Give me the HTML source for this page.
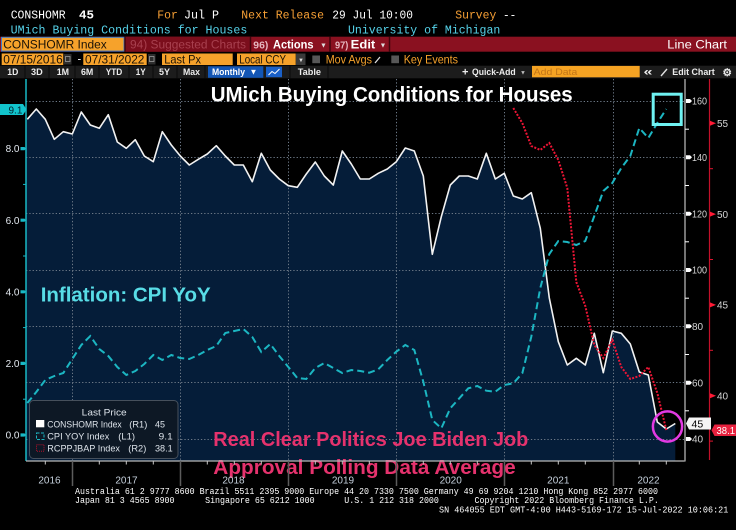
<!DOCTYPE html>
<html><head><meta charset="utf-8"><style>
html,body{margin:0;padding:0;background:#000;width:736px;height:530px;overflow:hidden}
svg{display:block}
.m{font-family:"Liberation Mono",monospace}
.s{font-family:"Liberation Sans",sans-serif}
</style></head><body>
<svg width="736" height="530" viewBox="0 0 736 530" xmlns="http://www.w3.org/2000/svg">
<rect width="736" height="530" fill="#000"/>

<!-- Header rows -->
<g class="m" font-size="11.5">
<text x="10.7" y="18.3" fill="#fff" textLength="55" lengthAdjust="spacingAndGlyphs">CONSHOMR</text>
<text x="79" y="18.3" fill="#fff" font-weight="bold" textLength="15" lengthAdjust="spacingAndGlyphs">45</text>
<text x="157.3" y="18.3" fill="#f7a035" textLength="20.5" lengthAdjust="spacingAndGlyphs">For</text>
<text x="184" y="18.3" fill="#fff" textLength="35" lengthAdjust="spacingAndGlyphs">Jul P</text>
<text x="241.3" y="18.3" fill="#f7a035" textLength="82.7" lengthAdjust="spacingAndGlyphs">Next Release</text>
<text x="332.3" y="18.3" fill="#fff" textLength="80.7" lengthAdjust="spacingAndGlyphs">29 Jul 10:00</text>
<text x="455.3" y="18.3" fill="#f7a035" textLength="41" lengthAdjust="spacingAndGlyphs">Survey</text>
<text x="503" y="18.3" fill="#fff" textLength="13.3" lengthAdjust="spacingAndGlyphs">--</text>
<text x="10.7" y="33.3" fill="#56d3ea" textLength="236.6" lengthAdjust="spacingAndGlyphs">UMich Buying Conditions for Houses</text>
<text x="348" y="33.3" fill="#56d3ea" textLength="152.3" lengthAdjust="spacingAndGlyphs">University of Michigan</text>
</g>

<!-- Red bar -->
<rect x="0" y="36.7" width="736" height="15" fill="#8a1120"/>
<rect x="125" y="36.7" width="125" height="15" fill="#7b0e1c"/>
<rect x="1.5" y="37.3" width="122.5" height="13.8" fill="#f6a22b" stroke="#3d7cc9" stroke-width="1"/>
<g class="s">
<text x="3.3" y="48.4" font-size="12" fill="#1b1206" textLength="103.4" lengthAdjust="spacingAndGlyphs">CONSHOMR Index</text>
<text x="130" y="48.4" font-size="11.5" fill="#a8404f" textLength="116" lengthAdjust="spacingAndGlyphs">94) Suggested Charts</text>
<text x="253.3" y="48.4" font-size="10" fill="#e6b8c0" font-weight="bold" textLength="15" lengthAdjust="spacingAndGlyphs">96)</text>
<text x="273" y="48.4" font-size="11.5" fill="#fff" font-weight="bold" textLength="40.5" lengthAdjust="spacingAndGlyphs">Actions</text>
<text x="320" y="47.5" font-size="7" fill="#ddd">▼</text>
<text x="335" y="48.4" font-size="10" fill="#e6b8c0" font-weight="bold" textLength="13.3" lengthAdjust="spacingAndGlyphs">97)</text>
<text x="350.7" y="48.4" font-size="11.5" fill="#fff" font-weight="bold" textLength="24.6" lengthAdjust="spacingAndGlyphs">Edit</text>
<text x="379.5" y="47.5" font-size="7" fill="#ddd">▼</text>
<text x="667.3" y="48.4" font-size="11.5" fill="#fff" textLength="59.7" lengthAdjust="spacingAndGlyphs">Line Chart</text>
</g>
<g stroke="#40050c" stroke-width="1.5">
<line x1="125" y1="36.7" x2="125" y2="51.7"/>
<line x1="250.5" y1="36.7" x2="250.5" y2="51.7"/>
<line x1="330" y1="36.7" x2="330" y2="51.7"/>
<line x1="389.5" y1="36.7" x2="389.5" y2="51.7"/>
</g>

<!-- Row 4 -->
<g class="s" font-size="12">
<rect x="1.7" y="53.5" width="61.6" height="11.5" fill="#f6a22b"/>
<text x="3.3" y="63.3" fill="#1b1206" textLength="59.4" lengthAdjust="spacingAndGlyphs">07/15/2016</text>
<rect x="64" y="54" width="7.5" height="10.5" fill="#2e2e2e"/>
<rect x="65.5" y="56.5" width="4.5" height="5" fill="none" stroke="#9a9a9a" stroke-width="0.8"/>
<text x="77.5" y="62.5" fill="#fff" font-size="11">-</text>
<rect x="83.3" y="53.5" width="63.4" height="11.5" fill="#f6a22b"/>
<text x="85" y="63.3" fill="#1b1206" textLength="59.4" lengthAdjust="spacingAndGlyphs">07/31/2022</text>
<rect x="148" y="54" width="7.5" height="10.5" fill="#2e2e2e"/>
<rect x="149.5" y="56.5" width="4.5" height="5" fill="none" stroke="#9a9a9a" stroke-width="0.8"/>
<rect x="162" y="53.5" width="70.7" height="11.5" fill="#f6a22b"/>
<text x="164.3" y="63.3" fill="#1b1206" textLength="36.7" lengthAdjust="spacingAndGlyphs">Last Px</text>
<rect x="237" y="53.5" width="58.7" height="11.5" fill="#f6a22b"/>
<text x="239.3" y="63.3" fill="#1b1206" textLength="46.7" lengthAdjust="spacingAndGlyphs">Local CCY</text>
<rect x="296" y="53.5" width="9.5" height="11.5" fill="#3a3a3a"/>
<text x="298" y="62" font-size="6" fill="#ddd">▼</text>
<rect x="312.3" y="55.5" width="7.7" height="7.7" fill="#575757"/>
<text x="325.7" y="63.3" fill="#f6a22b" textLength="46.3" lengthAdjust="spacingAndGlyphs">Mov Avgs</text>
<line x1="375" y1="63" x2="380" y2="57" stroke="#ddd" stroke-width="1.3"/>
<rect x="391.3" y="55.5" width="7.7" height="7.7" fill="#575757"/>
<text x="403.7" y="63.3" fill="#f6a22b" textLength="54.3" lengthAdjust="spacingAndGlyphs">Key Events</text>
</g>

<!-- Row 5 -->
<rect x="0" y="65.7" width="736" height="12.6" fill="#1c1c1c"/>
<g stroke="#0a0a0a" stroke-width="1">
<line x1="25" y1="65.7" x2="25" y2="78.3"/><line x1="49" y1="65.7" x2="49" y2="78.3"/>
<line x1="75" y1="65.7" x2="75" y2="78.3"/><line x1="99" y1="65.7" x2="99" y2="78.3"/>
<line x1="129" y1="65.7" x2="129" y2="78.3"/><line x1="153" y1="65.7" x2="153" y2="78.3"/>
<line x1="177" y1="65.7" x2="177" y2="78.3"/><line x1="205" y1="65.7" x2="205" y2="78.3"/>
<line x1="290" y1="65.7" x2="290" y2="78.3"/><line x1="328" y1="65.7" x2="328" y2="78.3"/>
</g>
<rect x="208" y="66.3" width="55.3" height="11.5" fill="#1356b5"/>
<rect x="266" y="66.7" width="16" height="10.5" fill="#1a60c8"/>
<polyline points="268.5,75 272,71.5 275,73.5 279.5,69" fill="none" stroke="#fff" stroke-width="1"/>
<rect x="532" y="65.9" width="107.7" height="11.4" fill="#f5a323"/>
<g class="s" font-size="9.5" font-weight="bold" fill="#ececec">
<text x="7.3" y="75" textLength="11" lengthAdjust="spacingAndGlyphs">1D</text>
<text x="31" y="75" textLength="11.7" lengthAdjust="spacingAndGlyphs">3D</text>
<text x="56.7" y="75" textLength="12.3" lengthAdjust="spacingAndGlyphs">1M</text>
<text x="81" y="75" textLength="12.3" lengthAdjust="spacingAndGlyphs">6M</text>
<text x="105.7" y="75" textLength="16.6" lengthAdjust="spacingAndGlyphs">YTD</text>
<text x="135.7" y="75" textLength="10" lengthAdjust="spacingAndGlyphs">1Y</text>
<text x="159" y="75" textLength="11" lengthAdjust="spacingAndGlyphs">5Y</text>
<text x="183" y="75" textLength="17" lengthAdjust="spacingAndGlyphs">Max</text>
<text x="212" y="75" fill="#fff" textLength="33" lengthAdjust="spacingAndGlyphs">Monthly</text>
<text x="249.5" y="74.5" font-size="8" fill="#fff">▼</text>
<text x="297.7" y="75" textLength="23.3" lengthAdjust="spacingAndGlyphs">Table</text>
<text x="462" y="75.5" font-size="11">+</text>
<text x="472" y="75" textLength="43.7" lengthAdjust="spacingAndGlyphs">Quick-Add</text>
<text x="520" y="74.3" font-size="6" fill="#bbb">▼</text>
<text x="533.7" y="75" font-weight="normal" fill="#c27517" textLength="43.6" lengthAdjust="spacingAndGlyphs">Add Data</text>
<text x="643.5" y="75.3" font-size="11" textLength="9" lengthAdjust="spacingAndGlyphs">«</text>
<text x="672.3" y="75" textLength="42.4" lengthAdjust="spacingAndGlyphs">Edit Chart</text>
<text x="722.5" y="76" font-size="10.5">⚙</text>
</g>
<line x1="661" y1="76" x2="667" y2="69" stroke="#e0e0e0" stroke-width="1.4"/>

<!-- Plot: area fill -->
<path d="M26,461 L26,119.3 L27.3,119.3 L36.3,109 L45.3,119.3 L54.3,139.3 L63.3,131.7 L72.3,134 L81.3,112 L90.3,125 L99.3,128.3 L108.3,114.7 L117.3,142 L126.3,148.3 L135.3,139.7 L144.3,156 L153.3,161.7 L162.3,131.7 L171.3,145 L180.3,156 L189.3,165 L198.3,159.3 L207.3,154 L216.3,145.7 L225.3,156 L234.3,165 L243.3,165 L252.3,181.7 L261.3,153.3 L270.3,170 L279.3,179 L288.3,185.7 L297.3,187.3 L306.3,174 L315.3,162 L324.3,176 L333.3,185 L342.3,151 L351.3,164 L360.3,179 L369.3,179 L378.3,173.3 L387.3,169 L396.3,161.7 L405.3,148 L414.3,151 L423.3,176 L432.3,254.3 L441.3,216.7 L450.3,185 L459.3,176 L468.3,176 L477.3,179 L486.3,153.3 L495.3,179 L504.3,173.3 L513.3,196 L522.3,199 L531.3,192.7 L540.3,228.3 L549.3,298 L558.3,341.7 L567.3,365 L576.3,358.3 L585.3,365 L594.3,333.3 L603.3,372.7 L612.3,331 L621.3,333.3 L630.3,344 L639.3,372 L648.3,375 L657.3,422 L666.3,429 L675.3,423.5 L675.3,461 Z" fill="#051d39"/>

<!-- Gridlines -->
<g stroke="#6c7886" stroke-width="1" stroke-dasharray="1.3 2">
<line x1="26" y1="101.5" x2="685" y2="101.5"/>
<line x1="26" y1="157.5" x2="685" y2="157.5"/>
<line x1="26" y1="213.5" x2="685" y2="213.5"/>
<line x1="26" y1="270.5" x2="685" y2="270.5"/>
<line x1="26" y1="326.5" x2="685" y2="326.5"/>
<line x1="26" y1="382.5" x2="685" y2="382.5"/>
<line x1="26" y1="439.5" x2="685" y2="439.5"/>
<line x1="72.5" y1="79" x2="72.5" y2="461"/>
<line x1="180.5" y1="79" x2="180.5" y2="461"/>
<line x1="288.5" y1="79" x2="288.5" y2="461"/>
<line x1="396.5" y1="79" x2="396.5" y2="461"/>
<line x1="504.5" y1="79" x2="504.5" y2="461"/>
<line x1="613.5" y1="79" x2="613.5" y2="461"/>
</g>

<!-- Titles -->
<g class="s" font-weight="bold">
<text x="210.7" y="101.5" font-size="21.5" fill="#fff" textLength="362" lengthAdjust="spacingAndGlyphs">UMich Buying Conditions for Houses</text>
<text x="40.7" y="301.7" font-size="20.5" fill="#58dce6" textLength="170" lengthAdjust="spacingAndGlyphs">Inflation: CPI YoY</text>
</g>

<!-- Series -->
<polyline fill="none" stroke="#f2f2f2" stroke-width="1.6" stroke-linejoin="round" points="27.3,119.3 36.3,109 45.3,119.3 54.3,139.3 63.3,131.7 72.3,134 81.3,112 90.3,125 99.3,128.3 108.3,114.7 117.3,142 126.3,148.3 135.3,139.7 144.3,156 153.3,161.7 162.3,131.7 171.3,145 180.3,156 189.3,165 198.3,159.3 207.3,154 216.3,145.7 225.3,156 234.3,165 243.3,165 252.3,181.7 261.3,153.3 270.3,170 279.3,179 288.3,185.7 297.3,187.3 306.3,174 315.3,162 324.3,176 333.3,185 342.3,151 351.3,164 360.3,179 369.3,179 378.3,173.3 387.3,169 396.3,161.7 405.3,148 414.3,151 423.3,176 432.3,254.3 441.3,216.7 450.3,185 459.3,176 468.3,176 477.3,179 486.3,153.3 495.3,179 504.3,173.3 513.3,196 522.3,199 531.3,192.7 540.3,228.3 549.3,298 558.3,341.7 567.3,365 576.3,358.3 585.3,365 594.3,333.3 603.3,372.7 612.3,331 621.3,333.3 630.3,344 639.3,372 648.3,375 657.3,422 666.3,429 675.3,423.5"/>
<polyline fill="none" stroke="#1cb6c2" stroke-width="2" stroke-dasharray="7 4" points="27.3,403 36.3,392 45.3,380 54.3,376 63.3,373 72.3,359 81.3,345 90.3,336 99.3,349 108.3,356 117.3,367 126.3,375 135.3,371 144.3,364 153.3,355 162.3,360 171.3,355 180.3,358 189.3,359 198.3,355 207.3,350 216.3,346 225.3,333 234.3,331 243.3,329 252.3,337 261.3,352 270.3,344 279.3,356 288.3,367 297.3,378 306.3,379 315.3,368 324.3,363 333.3,368 342.3,373 351.3,370 360.3,371 369.3,372.7 378.3,369.3 387.3,360 396.3,351.7 405.3,345 414.3,350 423.3,381.7 432.3,420 441.3,428.3 450.3,408.3 459.3,398.3 468.3,388.3 477.3,386 486.3,390.7 495.3,391.7 504.3,385 513.3,383.3 522.3,373.3 531.3,336.7 540.3,288 549.3,254 558.3,241 567.3,242 576.3,245 585.3,241 594.3,216 603.3,191 612.3,183 621.3,168 630.3,156 639.3,128 648.3,138 657.3,123 666.3,109"/>
<polyline fill="none" stroke="#ee1535" stroke-width="2" stroke-dasharray="2 1.5" points="513.3,108 522.3,123 531.3,146 540.3,150 549.3,143 558.3,160 567.3,188 576.3,282 585.3,306 594.3,345 603.3,358 612.3,340 621.3,367 630.3,379 639.3,376 648.3,367 657.3,393 666.3,430"/>

<!-- Pink annotation -->
<g class="s" font-weight="bold" font-size="20.5" fill="#e5326d">
<text x="213.3" y="446" textLength="315" lengthAdjust="spacingAndGlyphs">Real Clear Politics Joe Biden Job</text>
<text x="213.3" y="474" textLength="302.4" lengthAdjust="spacingAndGlyphs">Approval Polling Data Average</text>
</g>

<!-- Axes -->
<line x1="26" y1="79" x2="26" y2="461" stroke="#19b9c6" stroke-width="1.5"/>
<line x1="26" y1="461" x2="685" y2="461" stroke="#b8b8b8" stroke-width="1.2"/>
<line x1="685" y1="79" x2="685" y2="461.5" stroke="#9a9a9a" stroke-width="1.5"/>
<line x1="709.5" y1="79" x2="709.5" y2="460" stroke="#c4102a" stroke-width="1.2"/>

<!-- x ticks -->
<g stroke="#c8c8c8" stroke-width="1">
<line x1="45.3" y1="461" x2="45.3" y2="464.5"/><line x1="99.3" y1="461" x2="99.3" y2="464.5"/>
<line x1="126.3" y1="461" x2="126.3" y2="464.5"/><line x1="153.3" y1="461" x2="153.3" y2="464.5"/>
<line x1="207.3" y1="461" x2="207.3" y2="464.5"/><line x1="234.3" y1="461" x2="234.3" y2="464.5"/>
<line x1="261.3" y1="461" x2="261.3" y2="464.5"/><line x1="315.3" y1="461" x2="315.3" y2="464.5"/>
<line x1="342.3" y1="461" x2="342.3" y2="464.5"/><line x1="369.3" y1="461" x2="369.3" y2="464.5"/>
<line x1="423.3" y1="461" x2="423.3" y2="464.5"/><line x1="450.3" y1="461" x2="450.3" y2="464.5"/>
<line x1="477.3" y1="461" x2="477.3" y2="464.5"/><line x1="531.3" y1="461" x2="531.3" y2="464.5"/>
<line x1="558.3" y1="461" x2="558.3" y2="464.5"/><line x1="585.3" y1="461" x2="585.3" y2="464.5"/>
<line x1="639.3" y1="461" x2="639.3" y2="464.5"/><line x1="666.3" y1="461" x2="666.3" y2="464.5"/>
</g>
<g stroke="#5c5c5c" stroke-width="1.5">
<line x1="72.5" y1="461" x2="72.5" y2="486"/><line x1="180.5" y1="461" x2="180.5" y2="486"/>
<line x1="288.5" y1="461" x2="288.5" y2="486"/><line x1="396.5" y1="461" x2="396.5" y2="486"/>
<line x1="504.5" y1="461" x2="504.5" y2="486"/><line x1="613.5" y1="461" x2="613.5" y2="486"/>
</g>
<g class="s" font-size="10" fill="#c5d0dc" text-anchor="middle">
<text x="49.5" y="483.3">2016</text>
<text x="126.5" y="483.3">2017</text>
<text x="233.5" y="483.3">2018</text>
<text x="343" y="483.3">2019</text>
<text x="450.7" y="483.3">2020</text>
<text x="558.3" y="483.3">2021</text>
<text x="648.5" y="483.3">2022</text>
</g>

<!-- Left axis -->
<g fill="#19b9c6">
<polygon points="20.5,147 24.5,147 26,148.6 24.5,150.2 20.5,150.2"/>
<polygon points="20.5,218.6 24.5,218.6 26,220.2 24.5,221.8 20.5,221.8"/>
<polygon points="20.5,290.2 24.5,290.2 26,291.8 24.5,293.4 20.5,293.4"/>
<polygon points="20.5,361.8 24.5,361.8 26,363.4 24.5,365 20.5,365"/>
<polygon points="20.5,433.4 24.5,433.4 26,435 24.5,436.6 20.5,436.6"/>
</g>
<g stroke="#19b9c6" stroke-width="1">
<line x1="23" y1="184.4" x2="26" y2="184.4"/><line x1="23" y1="256" x2="26" y2="256"/>
<line x1="23" y1="327.6" x2="26" y2="327.6"/><line x1="23" y1="399.2" x2="26" y2="399.2"/>
</g>
<g class="s" font-size="10" fill="#e2e8ef" text-anchor="end">
<text x="19.5" y="152.2">8.0</text>
<text x="19.5" y="223.8">6.0</text>
<text x="19.5" y="295.4">4.0</text>
<text x="19.5" y="367">2.0</text>
<text x="19.5" y="438.6">0.0</text>
</g>
<polygon points="0,104 23,104 26.5,109.5 23,115 0,115" fill="#12c4cc"/>
<text class="s" x="8.5" y="113.3" font-size="10" fill="#04222e">9.1</text>

<!-- R1 axis -->
<g fill="#fff">
<polygon points="686,99 690,99 692,101 690,103 686,103"/>
<polygon points="686,155.3 690,155.3 692,157.3 690,159.3 686,159.3"/>
<polygon points="686,211.7 690,211.7 692,213.7 690,215.7 686,215.7"/>
<polygon points="686,268 690,268 692,270 690,272 686,272"/>
<polygon points="686,324.3 690,324.3 692,326.3 690,328.3 686,328.3"/>
<polygon points="686,380.7 690,380.7 692,382.7 690,384.7 686,384.7"/>
<polygon points="686,437 690,437 692,439 690,441 686,441"/>
</g>
<g stroke="#fff" stroke-width="1">
<line x1="685" y1="129.2" x2="689" y2="129.2"/><line x1="685" y1="185.5" x2="689" y2="185.5"/>
<line x1="685" y1="241.8" x2="689" y2="241.8"/><line x1="685" y1="298.2" x2="689" y2="298.2"/>
<line x1="685" y1="354.5" x2="689" y2="354.5"/><line x1="685" y1="410.8" x2="689" y2="410.8"/>
</g>
<g class="s" font-size="10" fill="#d4d4d4">
<text x="692" y="104.7" textLength="15" lengthAdjust="spacingAndGlyphs">160</text>
<text x="692" y="161" textLength="15" lengthAdjust="spacingAndGlyphs">140</text>
<text x="692" y="217.4" textLength="15" lengthAdjust="spacingAndGlyphs">120</text>
<text x="692" y="273.7" textLength="15" lengthAdjust="spacingAndGlyphs">100</text>
<text x="692" y="330">80</text>
<text x="692" y="386.4">60</text>
<text x="692" y="442.7">40</text>
</g>

<!-- R2 axis -->
<g fill="#ff1a35">
<polygon points="710,120.8 716,123.3 710,125.8"/>
<polygon points="710,211.6 716,214.1 710,216.6"/>
<polygon points="710,302.4 716,304.9 710,307.4"/>
<polygon points="710,393.2 716,395.7 710,398.2"/>
</g>
<g stroke="#e0142f" stroke-width="1">
<line x1="709.5" y1="168.7" x2="713" y2="168.7"/><line x1="709.5" y1="259.5" x2="713" y2="259.5"/>
<line x1="709.5" y1="350.3" x2="713" y2="350.3"/><line x1="709.5" y1="441.1" x2="713" y2="441.1"/>
</g>
<g class="s" font-size="10" fill="#d4d4d4">
<text x="717" y="127">55</text>
<text x="717" y="217.8">50</text>
<text x="717" y="308.6">45</text>
<text x="717" y="399.4">40</text>
</g>

<!-- last value labels -->
<polygon points="686,423.5 689,417.5 711,417.5 711,429.5 689,429.5" fill="#f4f4f4"/>
<text class="s" x="691.5" y="427.3" font-size="10.5" fill="#000">45</text>
<polygon points="711.5,430.3 714.5,424.5 736,424.5 736,436 714.5,436" fill="#e8213e"/>
<text class="s" x="716.5" y="434" font-size="10" fill="#fff" textLength="18.5" lengthAdjust="spacingAndGlyphs">38.1</text>

<!-- annotations -->
<rect x="653.2" y="94.2" width="28" height="30.3" fill="none" stroke="#6ff2f2" stroke-width="3"/>
<ellipse cx="667.5" cy="426.5" rx="14.6" ry="15.1" fill="none" stroke="#e33ae3" stroke-width="2.5"/>

<!-- Legend -->
<rect x="29.5" y="400.5" width="148.5" height="58" rx="4" fill="#0d1825" stroke="#46505c"/>
<g class="s" font-size="9.5" fill="#dde3ea">
<text x="81.7" y="415.7" textLength="45" lengthAdjust="spacingAndGlyphs">Last Price</text>
<text x="47.3" y="427.5" textLength="74.4" lengthAdjust="spacingAndGlyphs">CONSHOMR Index</text>
<text x="129.3" y="427.5" textLength="18" lengthAdjust="spacingAndGlyphs">(R1)</text>
<text x="155" y="427.5" textLength="10" lengthAdjust="spacingAndGlyphs">45</text>
<text x="47.3" y="439.5" textLength="62" lengthAdjust="spacingAndGlyphs">CPI YOY Index</text>
<text x="118.3" y="439.5" textLength="16.7" lengthAdjust="spacingAndGlyphs">(L1)</text>
<text x="158.7" y="439.5" textLength="14" lengthAdjust="spacingAndGlyphs">9.1</text>
<text x="47.3" y="451.3" textLength="72.7" lengthAdjust="spacingAndGlyphs">RCPPJBAP Index</text>
<text x="128.3" y="451.3" textLength="18" lengthAdjust="spacingAndGlyphs">(R2)</text>
<text x="155" y="451.3" textLength="17.7" lengthAdjust="spacingAndGlyphs">38.1</text>
</g>
<rect x="36" y="420" width="8.3" height="7.3" fill="#fff"/>
<rect x="36.5" y="433" width="7.5" height="6.5" fill="none" stroke="#1cb6c2" stroke-width="1" stroke-dasharray="3 1.5"/>
<rect x="36.5" y="444.7" width="7.5" height="6.5" fill="none" stroke="#b0102a" stroke-width="1" stroke-dasharray="1 1"/>

<!-- Footer -->
<g class="m" font-size="9.5" fill="#fff" style="white-space:pre">
<text x="75" y="494" textLength="583" lengthAdjust="spacingAndGlyphs">Australia 61 2 9777 8600 Brazil 5511 2395 9000 Europe 44 20 7330 7500 Germany 49 69 9204 1210 Hong Kong 852 2977 6000</text>
<text x="75" y="503" textLength="99.5" lengthAdjust="spacingAndGlyphs">Japan 81 3 4565 8900</text>
<text x="205.1" y="503" textLength="109.5" lengthAdjust="spacingAndGlyphs">Singapore 65 6212 1000</text>
<text x="344.3" y="503" textLength="94.6" lengthAdjust="spacingAndGlyphs">U.S. 1 212 318 2000</text>
<text x="474.5" y="503" textLength="184.3" lengthAdjust="spacingAndGlyphs">Copyright 2022 Bloomberg Finance L.P.</text>
<text x="439" y="512.3" textLength="289.3" lengthAdjust="spacingAndGlyphs">SN 464055 EDT  GMT-4:00 H443-5169-172 15-Jul-2022 10:06:21</text>
</g>
</svg>
</body></html>
